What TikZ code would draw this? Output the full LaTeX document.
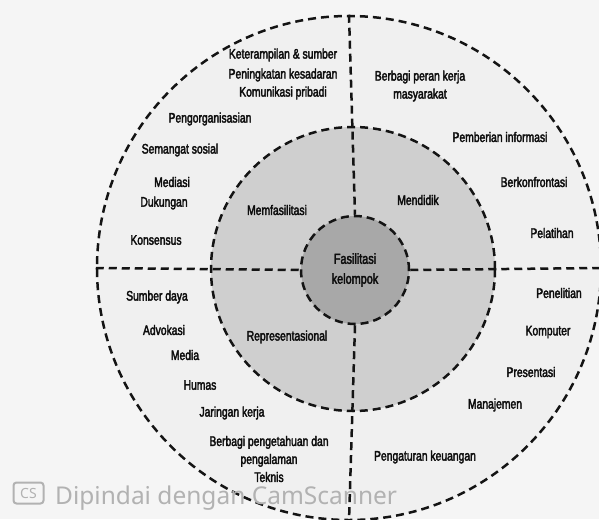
\documentclass[tikz,border=0pt]{standalone}
\usepackage{fontspec}
\setmainfont{Liberation Sans}[FakeStretch=0.75, FakeBold=2.6]
\newfontfamily\wmfont{Noto Sans}
\begin{document}
\begin{tikzpicture}[x=1pt,y=-1pt,
  ring/.style={circle, draw=black!92, line width=2.5pt, dash pattern=on 8pt off 5pt, inner sep=0pt},
  divider/.style={draw=black!92, line width=2.5pt, dash pattern=on 8pt off 5pt},
  lbl/.style={font=\fontsize{13.8}{18}\selectfont, text=black!95, align=center, inner sep=0pt},
  wm/.style={text=black!30, inner sep=0pt}
]
\useasboundingbox (0,0) rectangle (599,519);
\fill[black!4] (0,0) rectangle (599,519);
\node[ring, minimum size=504pt, fill=black!6] (outer) at (349,268) {};
\node[ring, minimum size=284pt, fill=black!19] (middle) at (353,269) {};
\node[ring, minimum size=108pt, fill=black!34] (inner) at (355,270) {};
\draw[divider] (outer.north) -- (inner.north);
\draw[divider] (inner.south) -- (outer.south);
\draw[divider] (outer.west) -- (inner.west);
\draw[divider] (inner.east) -- (outer.east);
% top-left quadrant
\node[lbl] (ket) at (283,55) {Keterampilan \& sumber};
\node[lbl] (pen) at (283,75) {Peningkatan kesadaran};
\node[lbl] (kom) at (283,93) {Komunikasi pribadi};
\node[lbl] (org) at (210,119) {Pengorganisasian};
\node[lbl] (sem) at (180,150) {Semangat sosial};
\node[lbl] (med) at (172,182) {Mediasi};
\node[lbl] (duk) at (164,203) {Dukungan};
\node[lbl] (kon) at (156,240) {Konsensus};
\node[lbl] (mem) at (277,210) {Memfasilitasi};
% top-right quadrant
\node[lbl] (ber) at (420,86) {Berbagi peran kerja\\masyarakat};
\node[lbl] (pem) at (500,137) {Pemberian informasi};
\node[lbl] (bko) at (534,182) {Berkonfrontasi};
\node[lbl] (mdd) at (418,200) {Mendidik};
\node[lbl] (pel) at (552,233) {Pelatihan};
% bottom-left quadrant
\node[lbl] (sum) at (157,297) {Sumber daya};
\node[lbl] (adv) at (164,330) {Advokasi};
\node[lbl] (mda) at (185,355) {Media};
\node[lbl] (hum) at (200,385) {Humas};
\node[lbl] (jar) at (232,413) {Jaringan kerja};
\node[lbl] (bpe) at (269,459) {Berbagi pengetahuan dan\\pengalaman\\Teknis};
\node[lbl] (rep) at (287,337) {Representasional};
% bottom-right quadrant
\node[lbl] (pnl) at (559,293) {Penelitian};
\node[lbl] (kmp) at (548,332) {Komputer};
\node[lbl] (pre) at (531,372) {Presentasi};
\node[lbl] (man) at (495,405) {Manajemen};
\node[lbl] (peu) at (425,457) {Pengaturan keuangan};
% centre
\node[lbl, font=\fontsize{14.5}{20}\selectfont] (fas) at (355,270) {Fasilitasi\\kelompok};
% watermark
\node[wm, draw=black!30, line width=2pt, rounded corners=3pt, minimum width=30pt, minimum height=21pt, font=\wmfont\bfseries\fontsize{14}{14}\selectfont] (cs) at (28.5,493) {CS};
\node[wm, anchor=base west, font=\wmfont\fontsize{24.5}{24.5}\selectfont] (dip) at (55,504) {Dipindai dengan CamScanner};
\end{tikzpicture}
\end{document}
